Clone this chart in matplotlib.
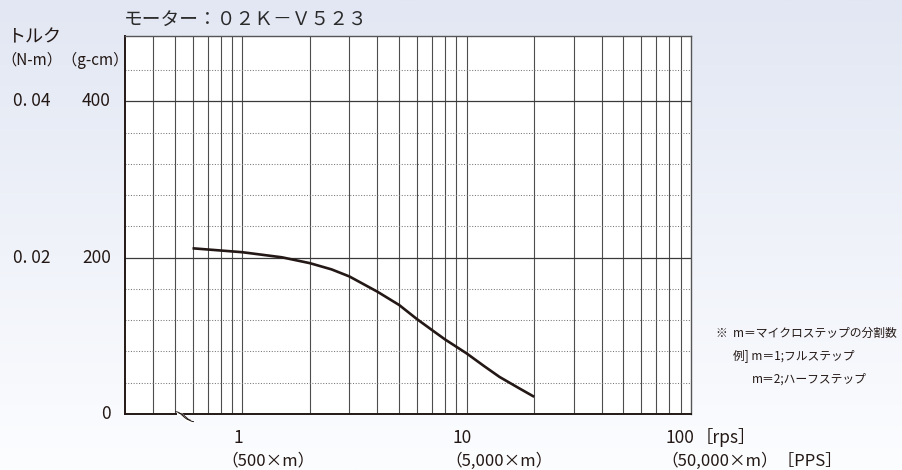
import matplotlib
matplotlib.use('Agg')
import matplotlib.pyplot as plt
import matplotlib.transforms as mtransforms
import numpy as np

plt.rcParams['font.family'] = ['Noto Sans CJK JP', 'DejaVu Sans']

# data
speed_rps = [0.6, 1.0, 1.5, 2.0, 2.5, 3.0, 4.0, 5.0, 6.0, 7.0, 8.0, 9.0, 10.0, 12.0, 14.0, 17.0, 20.0]
torque_gcm = [212, 207, 200.5, 193, 185, 176, 156.5, 139.5, 121.5, 107.5, 95.5, 86, 77.5, 61, 47.5, 33.5, 22]

x_ticks = [1, 10, 100]
x_labels = ['1', '10', '100']
pps_labels = ['（500×m）', '（5,000×m）', '（50,000×m）［PPS］']
y_ticks_gcm = [0, 200, 400]
y_labels_gcm = ['0', '200', '400']
y_labels_nm = ['', '0. 02', '0. 04']
solid_y = [200, 400]
dotted_y = [40, 80, 120, 160, 240, 280, 320, 360, 440]
minor_x = [0.4, 0.5, 0.6, 0.7, 0.8, 0.9, 1, 2, 3, 4, 5, 6, 7, 8, 9, 10,
           20, 30, 40, 50, 60, 70, 80, 90]

title = 'モーター：０２Ｋ－Ｖ５２３'
notes = ['※  m＝マイクロステップの分割数', '例] m＝1;フルステップ', 'm＝2;ハーフステップ']

ink = '#231815'

fig = plt.figure(figsize=(9.03, 4.70), dpi=100)

# light blue gradient background
bg = fig.add_axes([0, 0, 1, 1], zorder=-5)
top_c = np.array([226, 231, 243]) / 255
bot_c = np.array([252, 253, 255]) / 255
t = np.linspace(0, 1, 256)[:, None]
grad = top_c * (1 - t) + bot_c * t
bg.imshow(grad[:, None, :].repeat(2, axis=1), aspect='auto', extent=[0, 1, 0, 1])
bg.set_axis_off()

ax = fig.add_axes([125 / 903, 56 / 470, 566 / 903, 378.3 / 470])
ax.set_facecolor('white')
ax.set_xscale('log')
ax.set_xlim(0.3, 100)
ax.set_ylim(0, 484)

for xv in minor_x:
    ax.axvline(xv, color='#4d4d4d', lw=0.8, zorder=1)
for yv in solid_y:
    ax.axhline(yv, color='#3a3a3a', lw=0.9, zorder=1)
for yv in dotted_y:
    ax.axhline(yv, color='#777777', lw=0.75, ls=(0, (1, 1.6)), zorder=1)

ax.plot(speed_rps, torque_gcm, color=ink, lw=1.9, solid_capstyle='butt',
        solid_joinstyle='round', zorder=3)

ax.set_xticks([])
ax.set_yticks([])
ax.minorticks_off()
ax.tick_params(which='both', length=0, labelbottom=False, labelleft=False)
for s in ['left', 'bottom']:
    ax.spines[s].set_color(ink)
    ax.spines[s].set_linewidth(1.4)
for s in ['top', 'right']:
    ax.spines[s].set_color('#555555')
    ax.spines[s].set_linewidth(1.0)

# axis break mark on the bottom axis
tb = mtransforms.blended_transform_factory(ax.transData, ax.transAxes)
u = np.linspace(0, 1, 40)
bx = 10 ** (np.log10(0.505) + u * (np.log10(0.585) - np.log10(0.505)))
by = 0.006 - 0.022 * (1 - np.cos(np.pi * u)) / 2
ax.fill_between(bx * 1.015, by, by - 0.008, transform=tb, color='white', clip_on=False, zorder=4)
ax.plot(bx, by, transform=tb, color=ink, lw=0.7, clip_on=False, zorder=5)
ax.plot(bx * 1.035, by - 0.004, transform=tb, color=ink, lw=0.7, clip_on=False, zorder=5)

# y labels
ty = mtransforms.blended_transform_factory(ax.transAxes, ax.transData)
for yv, g, n in zip(y_ticks_gcm, y_labels_gcm, y_labels_nm):
    ax.text(-14 / 566, yv, g, transform=ty, ha='right', va='center',
            fontsize=12.5, color=ink)
    if n:
        ax.text(-112 / 566, yv, n, transform=ty, ha='left', va='center',
                fontsize=12.5, color=ink)

fig.text(7 / 903, 1 - 37 / 470, 'トルク', ha='left', va='center', fontsize=13, color=ink)
fig.text(1 / 903, 1 - 60 / 470, '（N-m）（g-cm）', ha='left', va='center', fontsize=11, color=ink)
fig.text(124 / 903, 1 - 19 / 470, title, ha='left', va='center', fontsize=13.5, color='#2a2a2a')

# x labels
for xv, lab, pps in zip(x_ticks, x_labels, pps_labels):
    ax.annotate(lab, xy=(xv, 0), xycoords=tb, xytext=(-3 if xv < 100 else -8, -17),
                textcoords='offset points', ha='center', va='center', fontsize=12.5, color=ink)
    ax.annotate(pps, xy=(xv, 0), xycoords=tb, xytext=(-15 if xv < 100 else -21, -34),
                textcoords='offset points', ha='left', va='center', fontsize=12, color=ink)
ax.annotate('［rps］', xy=(100, 0), xycoords=tb, xytext=(3, -17),
            textcoords='offset points', ha='left', va='center', fontsize=12.5, color=ink)

# notes on the right
note_x = [716, 733, 752]
note_y = [333, 356, 379]
for nx, ny, s in zip(note_x, note_y, notes):
    fig.text(nx / 903, 1 - ny / 470, s, ha='left', va='center', fontsize=8.5, color=ink)

fig.savefig('out.png', dpi=100)
